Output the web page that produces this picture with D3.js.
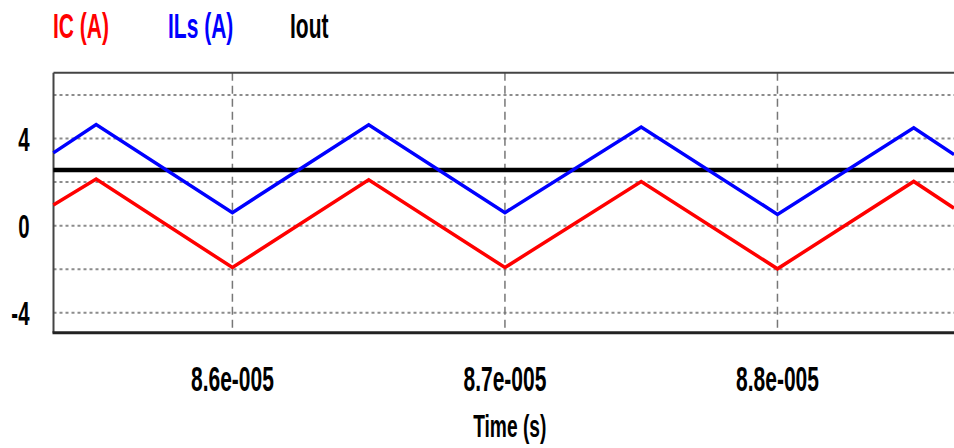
<!DOCTYPE html>
<html>
<head>
<meta charset="utf-8">
<script src="https://cdn.jsdelivr.net/npm/d3@7"></script>
<style>
  html, body { margin: 0; padding: 0; background: #fff; }
  svg { display: block; }
  text { font-family: "Liberation Sans", Arial, sans-serif; font-weight: bold; }
</style>
</head>
<body>
<svg id="chart" width="954" height="448"></svg>
<script>
// Simulation waveforms (time in seconds, currents in amperes)
const timeS  = [85.343e-6, 85.5e-6, 86.0e-6, 86.5e-6, 87.0e-6, 87.5e-6, 88.0e-6, 88.5e-6, 88.648e-6];
const icA    = [0.95, 2.14, -1.92, 2.11, -1.92, 2.03, -1.98, 2.03, 0.80];
const ilsA   = [3.34, 4.64, 0.60, 4.63, 0.60, 4.53, 0.52, 4.49, 3.26];
const ioutT  = [85.343e-6, 88.648e-6];
const ioutA  = [2.56, 2.56];

const seriesNames  = ["IC (A)", "ILs (A)", "Iout"];
const seriesColors = ["#ff0000", "#0000ff", "#000000"];

const xTickValues = [8.6e-5, 8.7e-5, 8.8e-5];
const xTickLabels = ["8.6e-005", "8.7e-005", "8.8e-005"];
const yGridValues = [6, 4, 2, 0, -2, -4];
const yTickValues = [4, 0, -4];
const yTickLabels = ["4", "0", "-4"];
const xTitle = "Time (s)";

(function draw() {
  const svg = d3.select("#chart");
  const pLeft = 53.5, pRight = 966, pTop = 72.7, pBottom = 332.7;
  const x = d3.scaleLinear().domain([85.3435e-6, 88.6918e-6]).range([pLeft, pRight]);
  const y = d3.scaleLinear().domain([-4.91, 7.02]).range([pBottom, pTop]);

  const squish = 0.6;
  function label(g, txt, px, py, size, anchor, color) {
    g.append("text")
      .attr("transform", `translate(${px},${py}) scale(${squish},1)`)
      .attr("text-anchor", anchor)
      .attr("font-size", size)
      .attr("fill", color || "#000")
      .text(txt);
  }

  // horizontal dotted grid
  svg.append("g").selectAll("line").data(yGridValues).join("line")
    .attr("x1", pLeft).attr("x2", 954)
    .attr("y1", d => y(d)).attr("y2", d => y(d))
    .attr("stroke", "#8c8c8c").attr("stroke-width", 2)
    .attr("stroke-dasharray", "3,3");

  // vertical dashed grid
  svg.append("g").selectAll("line").data(xTickValues).join("line")
    .attr("x1", d => x(d)).attr("x2", d => x(d))
    .attr("y1", pTop).attr("y2", pBottom)
    .attr("stroke", "#777").attr("stroke-width", 1.5)
    .attr("stroke-dasharray", "8,5");

  // frame
  svg.append("line").attr("x1", pLeft).attr("x2", 954).attr("y1", pTop).attr("y2", pTop)
    .attr("stroke", "#444").attr("stroke-width", 2);
  svg.append("line").attr("x1", pLeft).attr("x2", pLeft).attr("y1", pTop).attr("y2", pBottom)
    .attr("stroke", "#444").attr("stroke-width", 2);
  svg.append("line").attr("x1", pLeft - 1).attr("x2", 954).attr("y1", pBottom).attr("y2", pBottom)
    .attr("stroke", "#222").attr("stroke-width", 3);

  // waveforms
  const line = d3.line().x(d => x(d[0])).y(d => y(d[1]));
  const plot = svg.append("g");
  plot.append("path").datum(d3.zip(ioutT, ioutA)).attr("d", line)
    .attr("fill", "none").attr("stroke", seriesColors[2]).attr("stroke-width", 4.5);
  plot.append("path").datum(d3.zip(timeS, ilsA)).attr("d", line)
    .attr("fill", "none").attr("stroke", seriesColors[1]).attr("stroke-width", 3.5)
    .attr("stroke-linejoin", "miter");
  plot.append("path").datum(d3.zip(timeS, icA)).attr("d", line)
    .attr("fill", "none").attr("stroke", seriesColors[0]).attr("stroke-width", 3.5)
    .attr("stroke-linejoin", "miter");

  // legend
  const legend = svg.append("g");
  const legendX = [53, 168, 290];
  seriesNames.forEach((n, i) => label(legend, n, legendX[i], 38.3, 35, "start", seriesColors[i]));

  // y tick labels
  const yAxisG = svg.append("g");
  yTickValues.forEach((v, i) => label(yAxisG, yTickLabels[i], 29.5, y(v) + 12, 34, "end"));

  // x tick labels and title
  const xAxisG = svg.append("g");
  xTickValues.forEach((v, i) => label(xAxisG, xTickLabels[i], x(v), 391, 35, "middle"));
  label(xAxisG, xTitle, (pLeft + pRight) / 2, 437, 32, "middle");
})();
</script>
</body>
</html>
